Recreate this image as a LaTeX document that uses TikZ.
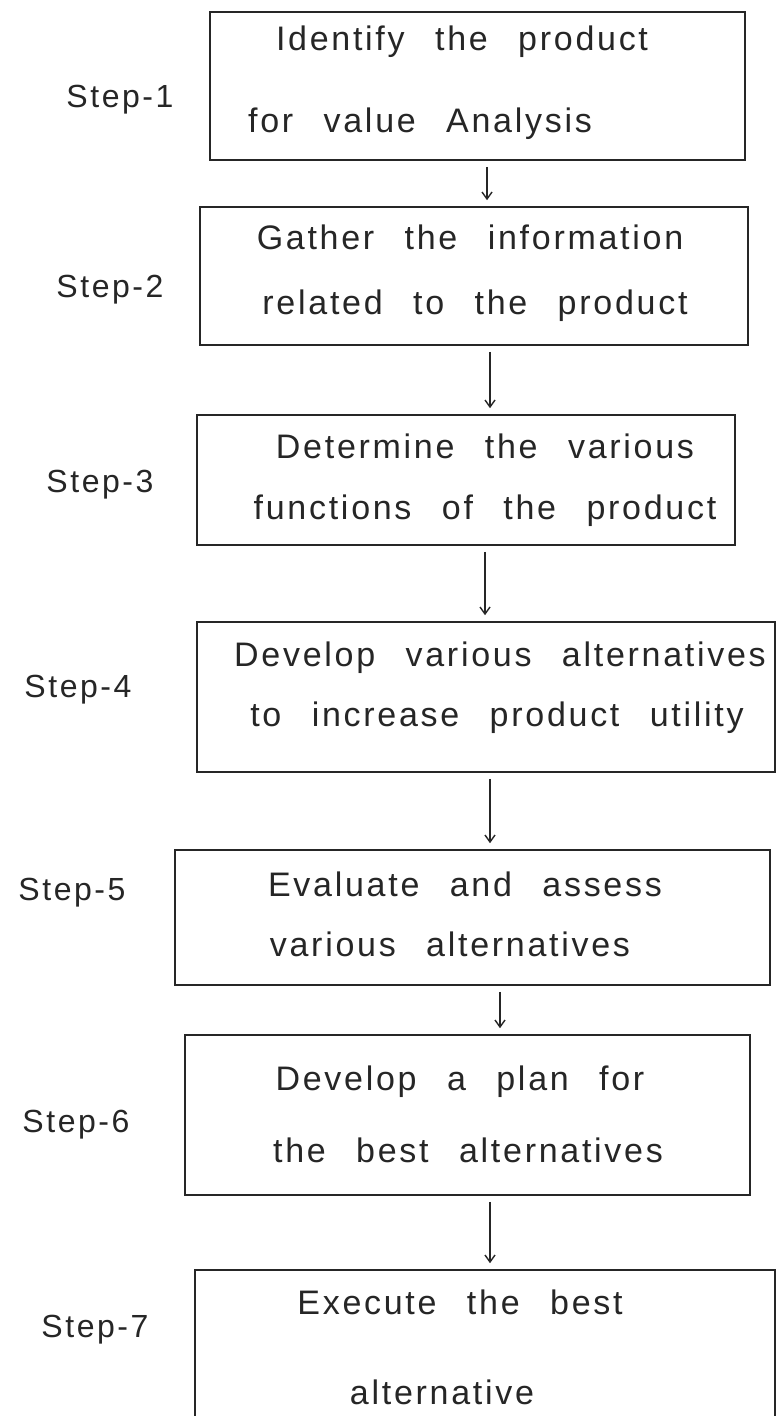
\documentclass[tikz,border=0pt]{standalone}
\usepackage{fontspec}
\setmainfont{Liberation Sans}
\newfontfamily\handfont[LetterSpace=8,WordSpace=2.5]{Liberation Sans}
\usetikzlibrary{arrows.meta}
\begin{document}
\begin{tikzpicture}[x=1pt,y=-1pt,
  stepbox/.style={draw=black!85, line width=1.6pt, rectangle, inner sep=0pt},
  boxtext/.style={font=\handfont\fontsize{34}{38}\selectfont, text=black!85, anchor=center},
  steplabel/.style={font=\handfont\fontsize{32}{36}\selectfont, text=black!85, anchor=center},
  flow/.style={draw=black!85, line width=1.4pt, -{Straight Barb[length=7pt,width=10pt]}, shorten >=6pt, shorten <=6pt}]
\useasboundingbox (0,0) rectangle (779,1416);
\clip (0,0) rectangle (779,1416);
\fill[white] (0,0) rectangle (779,1416);

% process boxes
\node[stepbox, minimum width=535pt, minimum height=148pt] (b1) at (477.5,86) {};
\node[stepbox, minimum width=548pt, minimum height=138pt] (b2) at (474,276) {};
\node[stepbox, minimum width=538pt, minimum height=130pt] (b3) at (466,480) {};
\node[stepbox, minimum width=578pt, minimum height=150pt] (b4) at (486,697) {};
\node[stepbox, minimum width=595pt, minimum height=135pt] (b5) at (472.5,917.5) {};
\node[stepbox, minimum width=565pt, minimum height=160pt] (b6) at (467.5,1115) {};
\node[stepbox, minimum width=580pt, minimum height=180pt] (b7) at (485,1360) {};

% box texts
\node[boxtext] (t1a) at (462,42) {Identify the product};
\node[boxtext] (t1b) at (420,124) {for value Analysis};
\node[boxtext] (t2a) at (470,237) {Gather the information};
\node[boxtext] (t2b) at (475,306) {related to the product};
\node[boxtext] (t3a) at (485,446) {Determine the various};
\node[boxtext] (t3b) at (485,511) {functions of the product};
\node[boxtext] (t4a) at (500,658) {Develop various alternatives};
\node[boxtext] (t4b) at (497,718) {to increase product utility};
\node[boxtext] (t5a) at (465,884) {Evaluate and assess};
\node[boxtext] (t5b) at (450,944) {various alternatives};
\node[boxtext] (t6a) at (460,1082) {Develop a plan for};
\node[boxtext] (t6b) at (468,1150) {the best alternatives};
\node[boxtext] (t7a) at (460,1302) {Execute the best};
\node[boxtext] (t7b) at (442,1392) {alternative};

% step labels
\node[steplabel] (s1) at (120,100) {Step-1};
\node[steplabel] (s2) at (110,290) {Step-2};
\node[steplabel] (s3) at (100,485) {Step-3};
\node[steplabel] (s4) at (78,690) {Step-4};
\node[steplabel] (s5) at (72,893) {Step-5};
\node[steplabel] (s6) at (76,1125) {Step-6};
\node[steplabel] (s7) at (95,1330) {Step-7};

% connectors
\draw[flow] (b1.south -| 487,0) -- (b2.north -| 487,0);
\draw[flow] (b2.south -| 490,0) -- (b3.north -| 490,0);
\draw[flow] (b3.south -| 485,0) -- (b4.north -| 485,0);
\draw[flow] (b4.south -| 490,0) -- (b5.north -| 490,0);
\draw[flow] (b5.south -| 500,0) -- (b6.north -| 500,0);
\draw[flow] (b6.south -| 490,0) -- (b7.north -| 490,0);
\end{tikzpicture}
\end{document}
